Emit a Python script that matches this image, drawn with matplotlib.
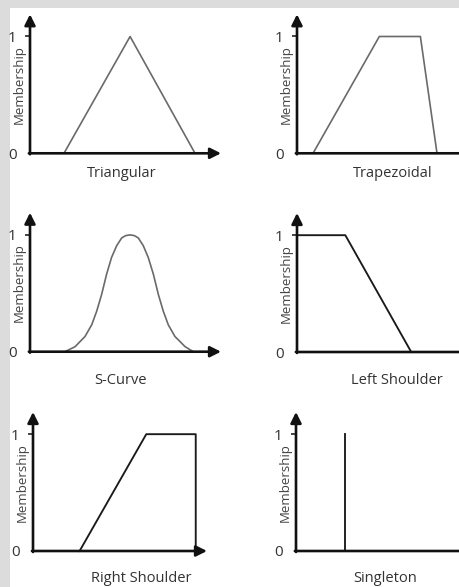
import matplotlib
matplotlib.use("Agg")
import matplotlib.pyplot as plt
from matplotlib.patches import Rectangle

plt.rcParams['font.family'] = ['Open Sans', 'DejaVu Sans']

# membership functions (x in arbitrary units, y = membership degree)
tri_x = [1.78, 5.24, 8.64]
tri_y = [0, 1, 0]

trap_x = [0.84, 4.31, 6.46, 7.33]
trap_y = [0, 1, 1, 0]

# S-curve
scurve_x = [1.83, 2.36, 2.88, 3.23, 3.49, 3.75, 4.01, 4.27, 4.54, 4.80, 5.01,
            5.24, 5.46, 5.67, 5.93, 6.19, 6.46, 6.72, 6.98, 7.24, 7.59, 8.12, 8.55]
scurve_y = [0.0, 0.043, 0.13, 0.23, 0.346, 0.49, 0.663, 0.807, 0.908, 0.974, 0.994,
            1.0, 0.994, 0.974, 0.908, 0.807, 0.663, 0.49, 0.346, 0.23, 0.13, 0.043, 0.0]

left_x = [0, 2.53, 5.98]
left_y = [1, 1, 0]

right_x = [2.44, 5.93, 8.52, 8.52]
right_y = [0, 1, 1, 0]

single_x = [2.58, 2.58]
single_y = [0, 1]

names = ['Triangular', 'Trapezoidal', 'S-Curve', 'Left Shoulder', 'Right Shoulder', 'Singleton']
series = [(tri_x, tri_y), (trap_x, trap_y), (scurve_x, scurve_y),
          (left_x, left_y), (right_x, right_y), (single_x, single_y)]

W, H = 460, 587
PX = 19.1  # pixels per x unit

# layout: left px, x-axis row px, width px, label x (data), label drop px
layout = [
    (30, 153.3, 191, 4.82, 20),
    (297, 153.3, 191, 5.03, 20),
    (30, 351.7, 191, 4.76, 29),
    (297, 352.0, 191, 5.24, 28),
    (33, 551.0, 174, 5.65, 28),
    (296, 551.0, 191, 4.66, 28),
]
line_colors = ['#6a6a6a', '#6a6a6a', '#6a6a6a', '#1a1a1a', '#1a1a1a', '#1a1a1a']
line_widths = [1.2, 1.2, 1.2, 1.35, 1.35, 1.35]

fig = plt.figure(figsize=(W / 100, H / 100), dpi=100, facecolor='#dcdcdc')
fig.add_artist(Rectangle((10 / W, 0), 1, (H - 8) / H, transform=fig.transFigure,
                         facecolor='white', edgecolor='none', zorder=-10))

ax_h = 139
ymax = 1.19
for i, (name, (xs, ys)) in enumerate(zip(names, series)):
    left, row, width, lab_x, drop = layout[i]
    ax = fig.add_axes([left / W, (H - row) / H, width / W, ax_h / H])
    ax.set_facecolor('none')
    ax.set_xlim(0, width / PX)
    ax.set_ylim(0, ymax)
    for s in ax.spines.values():
        s.set_visible(False)

    ax.plot(xs, ys, color=line_colors[i], lw=line_widths[i], clip_on=False, zorder=2,
            solid_joinstyle='round')

    # axes with arrow heads
    arrow = dict(arrowstyle='-|>,head_length=0.4,head_width=0.2', mutation_scale=16,
                 color='#111111', lw=1.9, shrinkA=0, shrinkB=0)
    ax.annotate('', xy=(0, 1), xytext=(0, -0.007), xycoords='axes fraction',
                arrowprops=arrow, annotation_clip=False)
    ax.annotate('', xy=(1, 0), xytext=(-0.006, 0), xycoords='axes fraction',
                arrowprops=arrow, annotation_clip=False)

    ax.set_xticks([])
    ax.set_yticks([0, 1])
    ax.set_yticklabels(['0', '1'])
    ax.tick_params(axis='y', length=3.5, width=1.1, pad=6, labelsize=11,
                   color='#111111', labelcolor='#333333')
    ax.yaxis.get_major_ticks()[0].tick1line.set_visible(False)

    ax.annotate('Membership', xy=(0, 0.59), xycoords=('axes fraction', 'data'),
                xytext=(-7.5, 0), textcoords='offset points', rotation=90,
                ha='center', va='center', fontsize=9.5, color='#444444')
    ax.annotate(name, xy=(lab_x, 0), xycoords='data',
                xytext=(0, -drop * 0.72), textcoords='offset points',
                ha='center', va='center', fontsize=10.5, color='#333333',
                annotation_clip=False)

fig.savefig('out.png', dpi=100, facecolor=fig.get_facecolor())
